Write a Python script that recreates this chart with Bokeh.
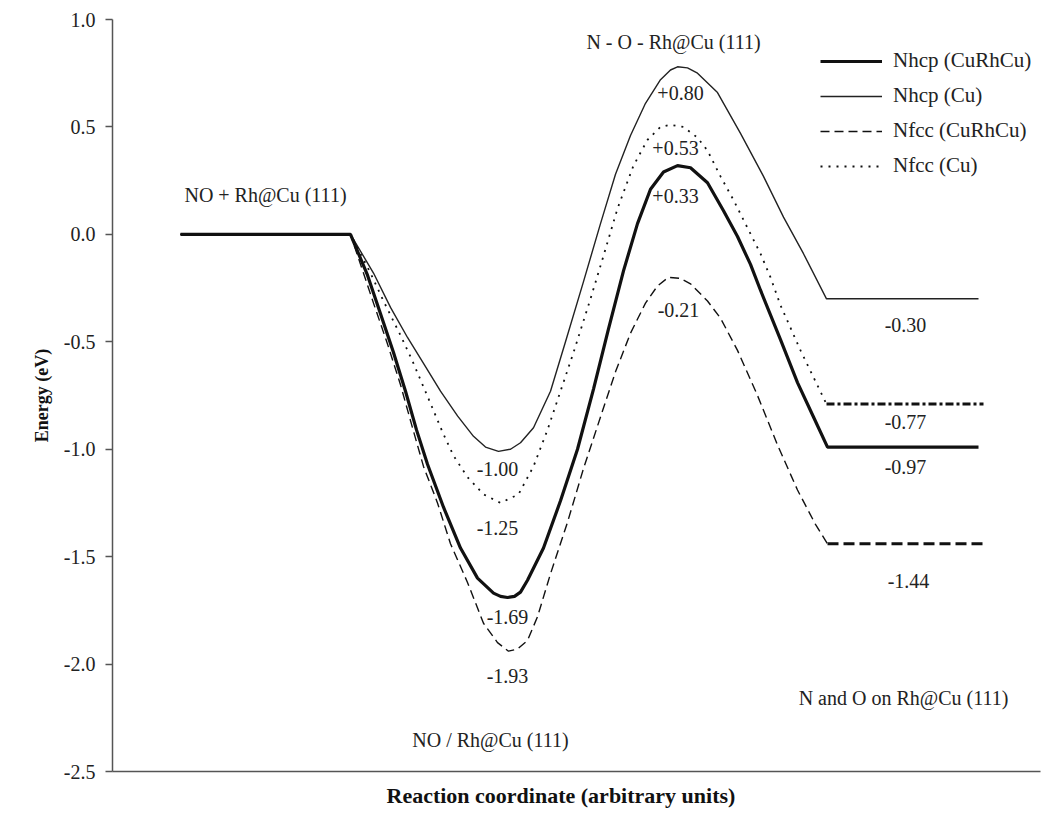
from bokeh.plotting import figure
from bokeh.models import (Range1d, FixedTicker, PrintfTickFormatter, Legend,
                          LegendItem, LabelSet, ColumnDataSource, Title)
from bokeh.core.properties import value
from bokeh.embed import file_html
from bokeh.resources import INLINE

# Reaction coordinate (arbitrary units) and energies (eV)
nhcp_rh_x = [180, 350, 367, 380, 393, 405, 416, 427, 443, 460, 477, 493, 500, 507, 514, 520,
             527, 543, 560, 577, 593, 608, 623, 637, 650, 663, 677, 690, 707, 723, 737, 750,
             760, 780, 797, 813, 827, 978]
nhcp_rh_y = [0, 0, -0.19, -0.37, -0.55, -0.73, -0.91, -1.07, -1.27, -1.46, -1.60, -1.67, -1.685,
             -1.69, -1.685, -1.665, -1.61, -1.46, -1.24, -1.00, -0.72, -0.44, -0.17, 0.05,
             0.21, 0.29, 0.32, 0.31, 0.24, 0.11, -0.01, -0.14, -0.26, -0.49, -0.69, -0.85,
             -0.99, -0.99]

nhcp_cu_x = [180, 350, 373, 390, 407, 423, 440, 457, 473, 485, 498, 510, 520, 533, 550, 565,
             583, 600, 615, 630, 645, 660, 670, 677, 687, 697, 717, 740, 763, 783, 803, 826,
             978]
nhcp_cu_y = [0, 0, -0.18, -0.34, -0.48, -0.60, -0.73, -0.845, -0.94, -0.99, -1.01, -1.00, -0.97,
             -0.90, -0.73, -0.50, -0.22, 0.05, 0.28, 0.46, 0.61, 0.72, 0.765, 0.78, 0.775,
             0.75, 0.66, 0.47, 0.27, 0.08, -0.09, -0.30, -0.30]

nfcc_rh_x = [180, 350, 373, 387, 400, 412, 423, 437, 450, 467, 483, 497, 508, 517, 527, 537,
             550, 567, 583, 600, 615, 630, 645, 657, 668, 680, 690, 707, 720, 737, 757, 777,
             797, 815, 827, 982]
nfcc_rh_y = [0, 0, -0.32, -0.51, -0.70, -0.90, -1.08, -1.25, -1.44, -1.62, -1.81, -1.90, -1.94,
             -1.93, -1.89, -1.78, -1.58, -1.34, -1.09, -0.85, -0.64, -0.46, -0.32, -0.24,
             -0.20, -0.205, -0.23, -0.31, -0.39, -0.54, -0.75, -0.98, -1.19, -1.35, -1.44,
             -1.44]

nfcc_cu_x = [180, 350, 370, 383, 400, 412, 423, 433, 442, 453, 467, 483, 500, 518, 533, 547,
             560, 573, 590, 603, 617, 633, 647, 660, 670, 683, 697, 707, 720, 733, 747, 760,
             770, 780, 800, 826, 983]
nfcc_cu_y = [0, 0, -0.18, -0.31, -0.47, -0.59, -0.71, -0.82, -0.92, -1.03, -1.13, -1.21, -1.25,
             -1.21, -1.08, -0.91, -0.73, -0.55, -0.30, -0.10, 0.12, 0.32, 0.44, 0.50, 0.51,
             0.50, 0.45, 0.39, 0.27, 0.16, 0.03, -0.09, -0.20, -0.33, -0.54, -0.79, -0.79]

series_names = ["Nhcp (CuRhCu)", "Nhcp (Cu)", "Nfcc (CuRhCu)", "Nfcc (Cu)"]

# Energy annotations
ann_text = ["+0.80", "+0.53", "+0.33", "-0.21", "-1.00", "-1.25", "-1.69", "-1.93",
            "-0.30", "-0.77", "-0.97", "-1.44",
            "NO + Rh@Cu (111)", "N - O - Rh@Cu (111)", "NO / Rh@Cu (111)",
            "N and O on Rh@Cu (111)"]
ann_x = [680, 675, 675, 678, 497, 497, 507, 507,
         905, 905, 905, 908,
         265, 673, 490, 903]
ann_y = [0.66, 0.40, 0.177, -0.353, -1.093, -1.367, -1.781, -2.056,
         -0.423, -0.874, -1.084, -1.614,
         0.181, 0.893, -2.353, -2.158]

y_ticks = [-2.5, -2.0, -1.5, -1.0, -0.5, 0.0, 0.5, 1.0]

SERIF = "Liberation Serif"

p = figure(width=1044, height=816, x_range=Range1d(112, 1040), y_range=Range1d(-2.5, 1.0),
           output_backend="svg", toolbar_location=None,
           min_border_left=112, min_border_right=4, min_border_top=19, min_border_bottom=44)
p.xgrid.visible = False
p.ygrid.visible = False
p.outline_line_color = None
p.background_fill_color = "white"

# axes
ya = p.yaxis[0]
ya.ticker = FixedTicker(ticks=y_ticks)
ya.formatter = PrintfTickFormatter(format="%.1f")
ya.major_tick_out = 7
ya.major_tick_in = 0
ya.minor_tick_line_color = None
ya.axis_line_color = "#555555"
ya.axis_line_width = 1.5
ya.major_tick_line_color = "#555555"
ya.major_tick_line_width = 1.5
ya.major_label_text_font = SERIF
ya.major_label_text_font_size = "20px"
ya.major_label_text_color = "#222222"
ya.major_label_standoff = 10
ya.axis_label = "Energy (eV)"
ya.axis_label_text_font = SERIF
ya.axis_label_text_font_style = "bold"
ya.axis_label_text_font_size = "18px"
ya.axis_label_text_color = "#111111"
ya.axis_label_standoff = 9

xa = p.xaxis[0]
xa.ticker = FixedTicker(ticks=[])
xa.major_tick_line_color = None
xa.minor_tick_line_color = None
xa.major_label_text_font_size = "0px"
xa.axis_line_color = "#555555"
xa.axis_line_width = 1.5

xtitle = Title(text="Reaction coordinate (arbitrary units)", align="left", offset=274,
               text_font=SERIF, text_font_style="bold", text_font_size="22px",
               text_color="#111111", standoff=18)
p.add_layout(xtitle, "below")

# curves: main part, then final plateau
r_cu = p.line(nhcp_cu_x, nhcp_cu_y, line_color="#222222", line_width=1.4)
r_fcu = p.line(nfcc_cu_x[:-1], nfcc_cu_y[:-1], line_color="#111111", line_width=1.8,
               line_dash="2 6")
p.line(nfcc_cu_x[-2:], nfcc_cu_y[-2:], line_color="#111111", line_width=3,
       line_dash="8 3 3 3")
r_frh = p.line(nfcc_rh_x[:-1], nfcc_rh_y[:-1], line_color="#111111", line_width=1.4,
               line_dash="9 5")
p.line(nfcc_rh_x[-2:], nfcc_rh_y[-2:], line_color="#111111", line_width=3,
       line_dash="11 5")
r_rh = p.line(nhcp_rh_x, nhcp_rh_y, line_color="#111111", line_width=3.2)

src = ColumnDataSource(dict(x=ann_x, y=ann_y, t=ann_text))
labels = LabelSet(x="x", y="y", text="t", source=src, text_align="center",
                  text_baseline="middle", text_font=value(SERIF),
                  text_font_size=value("20px"), text_color="#222222")
p.add_layout(labels)

legend = Legend(items=[LegendItem(label=series_names[0], renderers=[r_rh]),
                       LegendItem(label=series_names[1], renderers=[r_cu]),
                       LegendItem(label=series_names[2], renderers=[r_frh]),
                       LegendItem(label=series_names[3], renderers=[r_fcu])],
                location=(708, 593), glyph_width=62, glyph_height=24, label_height=24,
                spacing=10, padding=0, margin=0, label_standoff=11,
                border_line_alpha=0, background_fill_alpha=0,
                label_text_font=SERIF, label_text_font_size="21px",
                label_text_color="#222222")
p.add_layout(legend)

open("out.html", "w").write(file_html(p, INLINE))
